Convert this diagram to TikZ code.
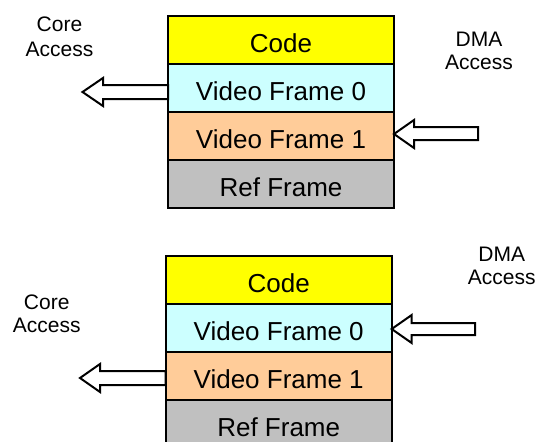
\documentclass[tikz,border=0pt]{standalone}
\usepackage{fontspec}
\setmainfont{Liberation Sans}
\definecolor{codeyellow}{HTML}{FFFF00}
\definecolor{framecyan}{HTML}{CCFFFF}
\definecolor{framepeach}{HTML}{FFCC99}
\definecolor{refgray}{HTML}{C0C0C0}
\tikzset{
  membox/.style={draw=black, line width=2pt, minimum width=226pt, minimum height=48pt,
    inner sep=0pt, outer sep=0pt, text height=24pt, text depth=0pt,
    font=\fontsize{26}{30}\selectfont},
  accesslabel/.style={align=center, inner sep=0pt, font=\fontsize{21}{23.3}\selectfont},
  arrowline/.style={draw=black, fill=white, line width=2pt, line join=miter}
}
\begin{document}
\begin{tikzpicture}[x=1pt, y=-1pt]
\useasboundingbox (0,0) rectangle (539,442);
% ---- top stack ----
\node[membox, fill=codeyellow] (tcode) at (281,40) {Code};
\node[membox, fill=framecyan] (tvf0) at (281,88) {Video Frame 0};
\node[membox, fill=framepeach] (tvf1) at (281,136) {Video Frame 1};
\node[membox, fill=refgray] (tref) at (281,184) {Ref Frame};
\node[accesslabel, font=\fontsize{21}{25}\selectfont] (tcore) at (59.5,37) {Core\\Access};
\node[accesslabel, font=\fontsize{21}{22.6}\selectfont] (tdma) at (479,51) {DMA\\Access};
% arrows (top)
\coordinate (tcoretip) at (82.5,92);
\draw[arrowline] (tcoretip) -- ++(20.5,-14) -- ++(0,7) -- (tvf0.west |- 0,85) -- (tvf0.west |- 0,99) -- ++(-65,0) -- ++(0,7) -- cycle;
\coordinate (tdmatip) at (tvf1.east |- 0,134);
\draw[arrowline] (tdmatip) -- ++(20,-14) -- ++(0,7) -- ++(64,0) -- ++(0,13) -- ++(-64,0) -- ++(0,8) -- cycle;
% ---- bottom stack ----
\node[membox, fill=codeyellow] (bcode) at (278.7,280) {Code};
\node[membox, fill=framecyan] (bvf0) at (278.7,328) {Video Frame 0};
\node[membox, fill=framepeach] (bvf1) at (278.7,376) {Video Frame 1};
\node[membox, fill=refgray] (bref) at (278.7,424) {Ref Frame};
\node[accesslabel] (bcore) at (46.7,314) {Core\\Access};
\node[accesslabel] (bdma) at (501.7,266) {DMA\\Access};
% arrows (bottom)
\coordinate (bdmatip) at (bvf0.east |- 0,329);
\draw[arrowline] (bdmatip) -- ++(20,-14) -- ++(0,8) -- ++(63.3,0) -- ++(0,12) -- ++(-63.3,0) -- ++(0,8) -- cycle;
\coordinate (bcoretip) at (80,378);
\draw[arrowline] (bcoretip) -- ++(20,-14) -- ++(0,7) -- (bvf1.west |- 0,371) -- (bvf1.west |- 0,385) -- ++(-65.7,0) -- ++(0,7) -- cycle;
\end{tikzpicture}
\end{document}
